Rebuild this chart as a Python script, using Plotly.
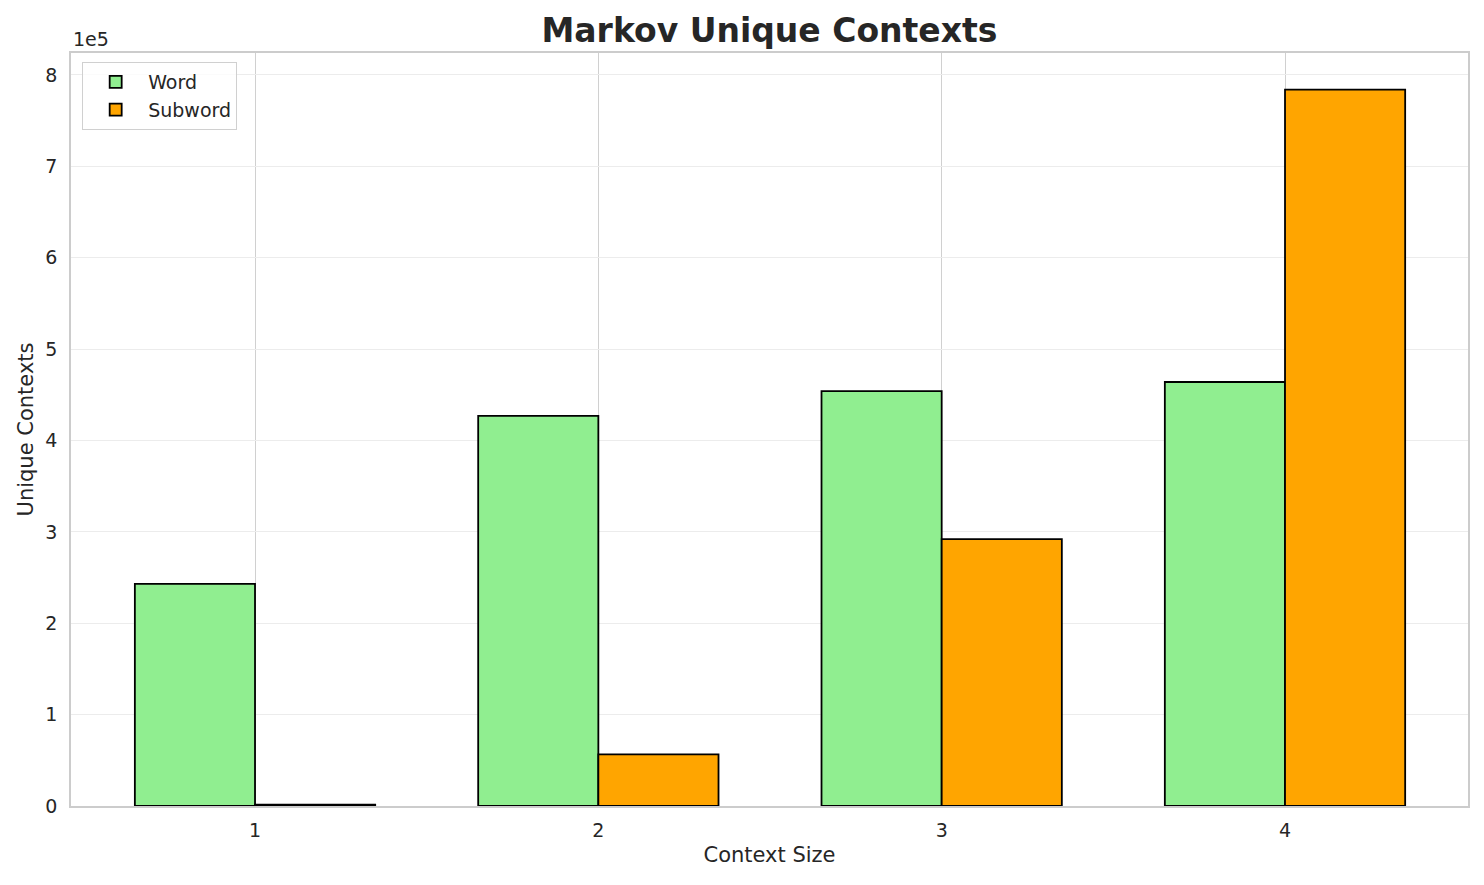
import plotly.graph_objects as go

context_sizes = [1, 2, 3, 4]
word_contexts = [243000, 427000, 454000, 464000]
subword_contexts = [1500, 56500, 292000, 784000]
y_tick_values = [0, 100000, 200000, 300000, 400000, 500000, 600000, 700000, 800000]
y_tick_labels = ["0", "1", "2", "3", "4", "5", "6", "7", "8"]

fig = go.Figure()

fig.add_trace(
    go.Bar(
        x=context_sizes, y=word_contexts,
        name="Word",
        marker=dict(color="#90ee90", line=dict(color="black", width=1.8)),
    )
)
fig.add_trace(
    go.Bar(
        x=context_sizes, y=subword_contexts,
        name="Subword",
        marker=dict(color="#ffa500", line=dict(color="black", width=1.8)),
    )
)

# the page body adds 8px around the figure, so margins are shifted by that
fig.update_layout(
    width=1484, height=885,
    margin=dict(l=63, r=24, t=45, b=87),
    paper_bgcolor="white", plot_bgcolor="white",
    font=dict(family="DejaVu Sans", size=19, color="#262626"),
    barmode="group", bargap=0.3, bargroupgap=0,
    title=dict(text="<b>Markov Unique Contexts</b>", xref="paper", x=0.5, xanchor="center",
               y=0.988, yanchor="top", font=dict(size=33, color="#262626")),
    legend=dict(x=0.008, y=0.988, xanchor="left", yanchor="top",
                bgcolor="rgba(255,255,255,0.8)", bordercolor="#d0d0d0", borderwidth=1,
                font=dict(size=19), traceorder="normal", itemwidth=55),
    showlegend=True,
)

fig.update_xaxes(
    title=dict(text="Context Size", font=dict(size=21), standoff=8),
    tickvals=context_sizes, ticktext=[str(c) for c in context_sizes],
    range=[0.464, 4.533],
    showgrid=True, gridcolor="#d0d0d0", gridwidth=1.2,
    showline=True, linecolor="#cccccc", linewidth=1.5, mirror=True,
    ticks="outside", ticklen=6, tickcolor="white", zeroline=False,
)
fig.update_yaxes(
    title=dict(text="Unique Contexts", font=dict(size=21), standoff=6),
    tickvals=y_tick_values, ticktext=y_tick_labels,
    range=[0, 824000],
    showgrid=True, gridcolor="#ececec", gridwidth=1,
    showline=True, linecolor="#cccccc", linewidth=1.5, mirror=True,
    ticks="outside", ticklen=8, tickcolor="white", zeroline=False,
)

fig.add_annotation(
    text="1e5", xref="paper", yref="paper", x=0, y=1.0,
    xanchor="left", yanchor="bottom", showarrow=False, yshift=1,
    font=dict(size=19, color="#262626"),
)

fig.write_html("out.html")
